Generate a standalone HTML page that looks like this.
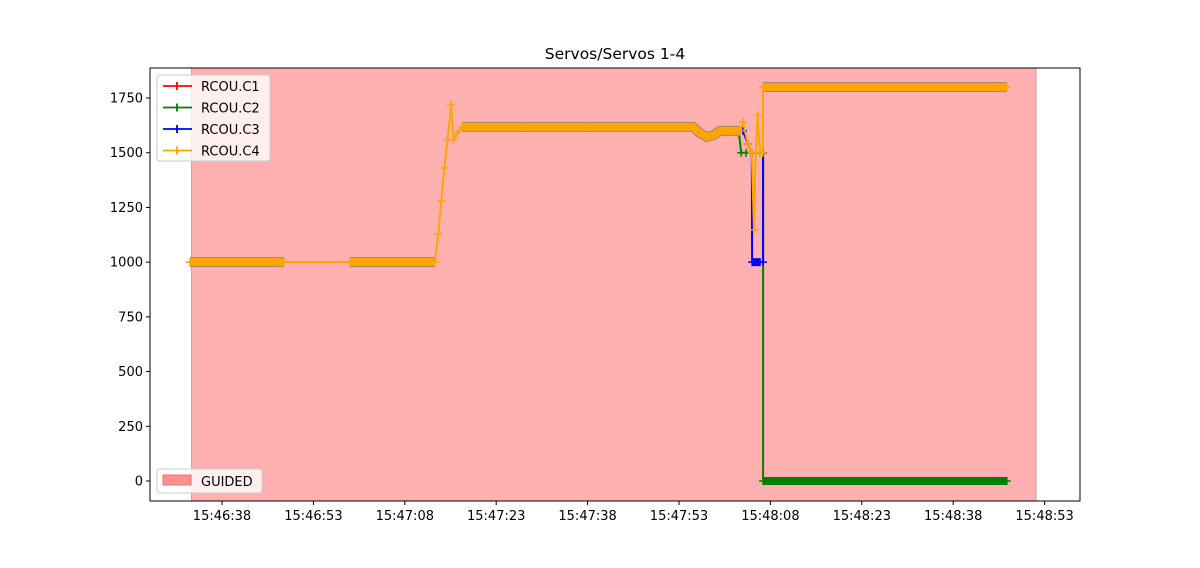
<!DOCTYPE html>
<html><head><meta charset="utf-8"><style>
body{margin:0;background:#fff;font-family:"Liberation Sans","DejaVu Sans",sans-serif;}
svg text{font-family:"DejaVu Sans","Liberation Sans",sans-serif;font-size:13px;fill:#000}
</style></head><body>
<svg id="chart" width="1200" height="563" xmlns="http://www.w3.org/2000/svg"></svg>
<script>
// data: time in seconds after 15:46:38, value in PWM
const tickSeconds=[0,15,30,45,60,75,90,105,120,135];
const tickLabels=["15:46:38","15:46:53","15:47:08","15:47:23","15:47:38","15:47:53","15:48:08","15:48:23","15:48:38","15:48:53"];
const yTicks=[0,250,500,750,1000,1250,1500,1750];
const guidedRange=[-5.0,133.6];
const c4T=[-5.25,10.17,21.0,34.95,35.5,36.0,36.5,37.0,37.6,38.0,38.6,39.4,50,60,77.3,78.4,79.6,80.7,81.7,85.0,85.5,86.3,86.95,87.3,87.6,87.9,88.3,88.75,88.8,128.8];
const c4V=[1000,1000,1000,1000,1130,1280,1430,1560,1718,1560,1590,1618,1618,1618,1618,1590,1572,1580,1600,1600,1640,1540,1500,1147,1500,1672,1499,1499,1800,1800];
const c3T=[85.5,86.3,86.95,87.0,88.3,88.8,88.8];
const c3V=[1600,1540,1500,1000,1000,1000,1499];
const c2T=[84.8,85.2,86.0,88.3,88.8,88.8,128.8];
const c2V=[1600,1500,1500,1499,1499,0,0];
const thickRanges=[[-5.25,10.17],[21.0,34.95],[39.4,85.0],[88.8,128.8]];

const svg=document.getElementById('chart');
const NS='http://www.w3.org/2000/svg';
const L=150,R=1080,T=68,B=501;
const xs=t=>222+t*91.4/15;
const ys=v=>481-v*(481-98)/1750;
function mk(tag,attrs){const e=document.createElementNS(NS,tag);for(const k in attrs)e.setAttribute(k,attrs[k]);svg.appendChild(e);return e;}

const bg=mk('rect',{x:L,y:T,width:R-L,height:B-T,fill:'#fff'});


const sh=mk('rect',{x:xs(guidedRange[0]),y:T,width:xs(guidedRange[1])-xs(guidedRange[0]),height:B-T,fill:'#ffb1b1',stroke:'#c8a0a0','stroke-width':1});



function series(Ts,Vs,color,name,w){
  const pts=Ts.map((t,i)=>xs(t)+','+ys(Vs[i])).join(' ');
  const p=mk('polyline',{points:pts,fill:'none',stroke:color,'stroke-width':w,'stroke-linejoin':'round'});
  
  
  Ts.forEach((t,i)=>{
    const x=xs(t),y=ys(Vs[i]);
    const m=mk('path',{d:`M${x-4},${y}H${x+4}M${x},${y-4}V${y+4}`,stroke:color,'stroke-width':1.5});
    
    
  });
}
function thick(Ts,Vs,color,name){
  thickRanges.forEach(r=>{
    const idx=Ts.map((t,i)=>i).filter(i=>Ts[i]>=r[0]&&Ts[i]<=r[1]);
    if(idx.length<2)return;
    const pts=idx.map(i=>xs(Ts[i])+','+ys(Vs[i])).join(' ');
    const o=mk('polyline',{points:pts,fill:'none',stroke:'#a08868','stroke-width':10});
    
    
    const p=mk('polyline',{points:pts,fill:'none',stroke:color,'stroke-width':8});
    
    
  });
}
series(c2T,c2V,'green','rcou-c2',2);
{const i1=c2T.length-2;const g=mk('line',{x1:xs(c2T[i1]),y1:ys(0),x2:xs(c2T[i1+1]),y2:ys(0),stroke:'green','stroke-width':8});}
series(c3T,c3V,'blue','rcou-c3',2);
{const b=mk('line',{x1:xs(87.0),y1:ys(1000),x2:xs(88.3),y2:ys(1000),stroke:'blue','stroke-width':8});}
thick(c4T,c4V,'orange','rcou-c4');
series(c4T,c4V,'orange','rcou-c4',2);

const fr=mk('rect',{x:L,y:T,width:R-L,height:B-T,fill:'none',stroke:'#000','stroke-width':1});


yTicks.forEach(v=>{
  const y=ys(v);
  const t=mk('line',{x1:L-4,y1:y,x2:L,y2:y,stroke:'#000'});
  
  
  const tx=mk('text',{x:L-7,y:y+4.5,'text-anchor':'end'});tx.textContent=v;
  
  
});
tickSeconds.forEach((s,i)=>{
  const x=xs(s);
  const t=mk('line',{x1:x,y1:B,x2:x,y2:B+4,stroke:'#000'});
  
  
  const tx=mk('text',{x:x,y:B+19,'text-anchor':'middle'});tx.textContent=tickLabels[i];
  
  
});
const title=mk('text',{x:615,y:59,'text-anchor':'middle',style:'font-size:15.5px'});title.textContent='Servos/Servos 1-4';



const lg=mk('rect',{x:157,y:75,width:113,height:86,rx:3,fill:'#fff','fill-opacity':0.8,stroke:'#ccc'});


[['RCOU.C1','red'],['RCOU.C2','green'],['RCOU.C3','blue'],['RCOU.C4','orange']].forEach((e,i)=>{
  const y=86+i*21.5;
  const l=mk('path',{d:`M163,${y}H192M177,${y-4}V${y+4}`,stroke:e[1],'stroke-width':1.8,fill:'none'});
  
  
  const tx=mk('text',{x:201,y:y+5});tx.textContent=e[0];
  
  
});
const lg2=mk('rect',{x:157,y:469,width:105,height:24,rx:3,fill:'#fff','fill-opacity':0.8,stroke:'#ccc'});


const sw=mk('rect',{x:163,y:475,width:28,height:10,fill:'#ff8f8f',stroke:'#f07070'});


const gt=mk('text',{x:201,y:486});gt.textContent='GUIDED';


</script>
</body></html>
